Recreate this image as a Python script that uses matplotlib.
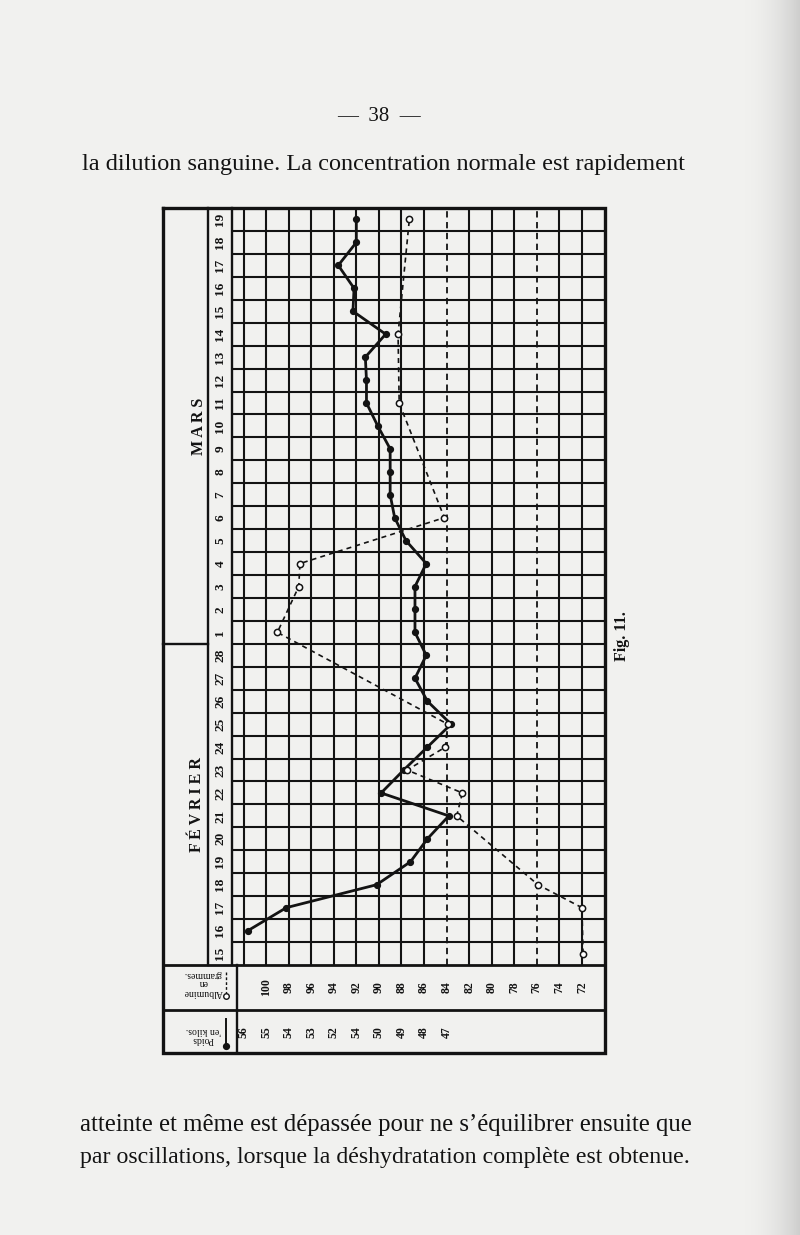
import matplotlib
matplotlib.use("Agg")
import matplotlib.pyplot as plt
import numpy as np
from matplotlib.transforms import blended_transform_factory

plt.rcParams['font.family'] = ['Liberation Serif', 'DejaVu Serif']

# jours, de bas en haut : 15 -> 28 fevrier puis 1 -> 19 mars
jours_fevrier = list(range(15, 29))
jours_mars = list(range(1, 20))
jours = [str(d) for d in jours_fevrier + jours_mars]

# poids en kilos (trait plein, points noirs) ; None = pas de mesure
poids = [None, 55.8, 54.1, 50.1, 48.6, 47.85, 46.9, 49.9, 48.9, 47.85, 46.8, 47.85, 48.4, 47.9,
         48.4, 48.4, 48.4, 47.9, 48.8, 49.3, 49.5, 49.5, 49.5, 50.05, 50.55, 50.55, 50.6, 49.7,
         51.15, 51.1, 51.8, 51.0, 51.0]

# albumine en grammes (pointille, petits cercles)
albumine = [71.9, None, 72.0, 75.9, None, None, 83.1, 82.6, 87.5, 84.1, 83.9, None, None, None,
            99.0, None, 97.1, 97.0, None, 84.2, None, None, None, None, 88.2, None, None, 88.3,
            None, None, None, None, 87.3]

# graduations ecrites sous le quadrillage
alb_ticks = [100, 98, 96, 94, 92, 90, 88, 86, 84, 82, 80, 78, 76, 74, 72]
poids_ticks = [56, 55, 54, 53, 52, 51, 50, 49, 48, 47]
poids_labels = ["56", "55", "54", "53", "52", "54", "50", "49", "48", "47"]
alb_normales = [84, 76]

ink = '#131313'
paper = '#f1f1ef'

fig = plt.figure(figsize=(8, 12.35), dpi=100, facecolor=paper)

# calque "page" en pixels
pg = fig.add_axes([0, 0, 1, 1])
pg.set_xlim(0, 800)
pg.set_ylim(1235, 0)
pg.axis('off')

# ombre du bord droit du scan
grad = np.linspace(0, 1, 60)[None, :] ** 2
shade = np.ones((1, 60, 4))
shade[..., :3] = 0.72
shade[..., 3] = grad * 0.6
pg.imshow(shade, extent=(740, 800, 1235, 0), aspect='auto', zorder=0)

# cadre du tableau
x_out, x_mois, x_date, x_right = 163, 208, 232, 604.5
y_top, y_rows, y_alb, y_bot = 208, 965, 1010, 1053
x_head = 237
n_rows = len(jours)
row_h = (y_rows - y_top) / n_rows

lw_out = 2.4
pg.plot([x_out, x_right, x_right, x_out, x_out], [y_top, y_top, y_bot, y_bot, y_top],
        color=ink, lw=lw_out, solid_joinstyle='miter')
pg.plot([x_mois, x_mois], [y_top, y_rows], color=ink, lw=1.7)
pg.plot([x_date, x_date], [y_top, y_rows], color=ink, lw=1.7)
pg.plot([x_out, x_right], [y_rows, y_rows], color=ink, lw=2.0)
pg.plot([x_out, x_right], [y_alb, y_alb], color=ink, lw=2.0)
pg.plot([x_head, x_head], [y_rows, y_bot], color=ink, lw=1.7)
y_sep = y_rows - len(jours_fevrier) * row_h
pg.plot([x_out, x_mois], [y_sep, y_sep], color=ink, lw=1.7)

# axes de donnees : x = poids (kg), y = jour
ax = fig.add_axes([x_date / 800, 1 - y_rows / 1235, (x_right - x_date) / 800,
                   (y_rows - y_top) / 1235])
ax.set_xlim(56.51, 40)
ax.set_ylim(-0.5, n_rows - 0.5)
ax.axis('off')
ax2 = ax.twiny()
ax2.set_xlim(2 * 56.51 - 10, 70)
ax2.axis('off')

for w in range(41, 57):
    if 2 * w - 10 in alb_normales:
        continue
    ax.axvline(w, color=ink, lw=1.5, zorder=1)
for i in range(n_rows - 1):
    ax.axhline(i + 0.5, color=ink, lw=1.5, zorder=1)
for a in alb_normales:
    ax2.axvline(a, color=ink, lw=1.3, ls=(0, (3.5, 2.5)), zorder=1)

idx = np.arange(n_rows)
pw = np.array([np.nan if v is None else v for v in poids])
al = np.array([np.nan if v is None else v for v in albumine])
mp = ~np.isnan(pw)
ma = ~np.isnan(al)

ax2.plot(al[ma], idx[ma], color=ink, lw=1.2, ls=(0, (3, 2.5)), marker='o', ms=4.5,
         mfc='white', mec=ink, mew=1.1, zorder=3)
ax.plot(pw[mp], idx[mp], color=ink, lw=2.0, marker='o', ms=4.2, mfc=ink, mec=ink, zorder=4)

# dates
tr_d = blended_transform_factory(pg.transData, ax.transData)
for i, j in enumerate(jours):
    pg.text(220.5, i, j, transform=tr_d, rotation=90, ha='center', va='center',
            fontsize=9.5, fontweight='bold', color=ink)

# mois
y_fev = (y_rows + y_sep) / 2
y_mars = (y_sep + y_top) / 2
pg.text(197, y_fev, "F É V R I E R", rotation=90, ha='center', va='center', fontsize=11.5,
        fontweight='bold', color=ink)
pg.text(199, y_mars, "M A R S", rotation=90, ha='center', va='center', fontsize=11.5,
        fontweight='bold', color=ink)

# graduations
tr_a = blended_transform_factory(ax2.transData, pg.transData)
for a in alb_ticks:
    pg.text(a, 987, str(a), transform=tr_a, rotation=90, ha='center', va='center',
            fontsize=8.5, fontweight='bold', color=ink)
tr_p = blended_transform_factory(ax.transData, pg.transData)
for w, lab in zip(poids_ticks, poids_labels):
    pg.text(w, 1032, lab, transform=tr_p, rotation=90, ha='center', va='center',
            fontsize=8.5, fontweight='bold', color=ink)

# en-tetes (imprimes a l'envers)
pg.text(203, 983, "Albumine\nen\ngrammes.", rotation=180, ha='center', va='center',
        multialignment='center', fontsize=7, color=ink, linespacing=1.0)
pg.plot([226, 226], [972, 993], color=ink, lw=1.0, ls=(0, (2, 1.5)))
pg.plot([226], [996], marker='o', ms=4, mfc='white', mec=ink, mew=1.0)
pg.text(203, 1035, "Poids\n'en kilos.", rotation=180, ha='center', va='center',
        multialignment='center', fontsize=7, color=ink, linespacing=1.05)
pg.plot([226, 226], [1019, 1044], color=ink, lw=1.4)
pg.plot([226], [1046], marker='o', ms=4.2, mfc=ink, mec=ink)

pg.text(622, 636, "Fig. 11.", rotation=90, ha='center', va='center', fontsize=11.5,
        fontweight='bold', color=ink)

# texte de la page
renderer = fig.canvas.get_renderer()


def ligne(x0, x1, y, s, size=16):
    t = pg.text(x0, y, s, fontsize=size, ha='left', va='baseline', color=ink)
    w = t.get_window_extent(renderer).width
    t.set_fontsize(size * (x1 - x0) / w)
    return t


pg.text(379, 121, "—  38  —", fontsize=15, ha='center', va='baseline', color=ink)
ligne(82, 684, 170, "la dilution sanguine. La concentration normale est rapidement")
ligne(80, 690, 1131, "atteinte et même est dépassée pour ne s’équilibrer ensuite que")
ligne(80, 690, 1163, "par oscillations, lorsque la déshydratation complète est obtenue.")

fig.savefig("out.png", dpi=100, facecolor=paper)
